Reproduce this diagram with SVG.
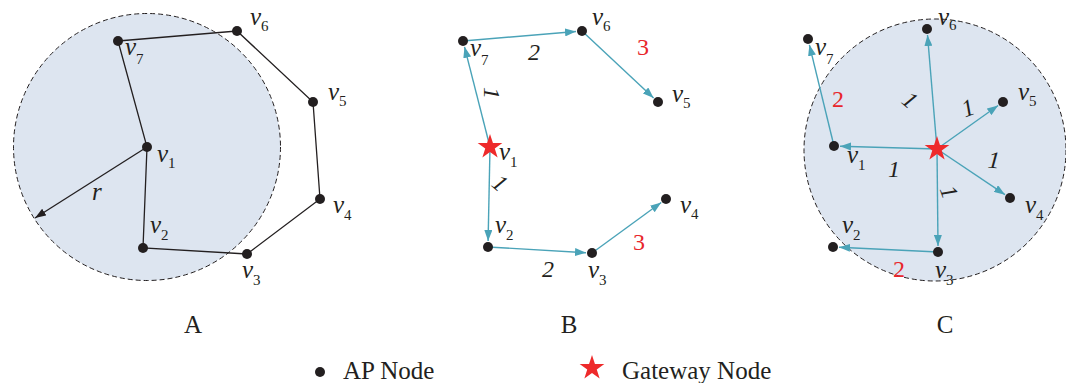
<svg xmlns="http://www.w3.org/2000/svg" width="1066" height="383" viewBox="0 0 1066 383">
<style>
.v{font-family:"Liberation Serif","Times New Roman",serif;font-style:italic;font-size:25px;fill:#231f20}
.sub{font-style:normal;font-size:15px}
.num{font-family:"Liberation Serif","Times New Roman",serif;font-style:italic;font-size:24px;fill:#231f20;text-anchor:middle}
.red{font-family:"Liberation Serif","Times New Roman",serif;font-size:24px;fill:#e8262b;text-anchor:middle}
.cap{font-family:"Liberation Serif","Times New Roman",serif;font-size:25px;fill:#231f20}
.range{fill:#dde5f0;stroke:#231f20;stroke-width:1;stroke-dasharray:5 3}
.blk{stroke:#231f20;stroke-width:1.3;fill:none}
.tl{stroke:#4aa3b8;stroke-width:1.4;fill:none;marker-end:url(#ta)}
.dot{fill:#231f20}
.star{fill:#ee2a2b}
</style>
<defs>
<marker id="ta" markerUnits="userSpaceOnUse" markerWidth="11" markerHeight="8" refX="11" refY="4" orient="auto"><path d="M0,0 L11,4 L0,8 z" fill="#4aa3b8"/></marker>
<marker id="ba" markerUnits="userSpaceOnUse" markerWidth="11" markerHeight="8" refX="11" refY="4" orient="auto"><path d="M0,0 L11,4 L0,8 z" fill="#231f20"/></marker>
<path id="st" d="M0,-13 L2.94,-4.05 L12.36,-4.02 L4.76,1.55 L7.64,10.52 L0,5 L-7.64,10.52 L-4.76,1.55 L-12.36,-4.02 L-2.94,-4.05 Z"/>
</defs>

<!-- Panel A -->
<circle class="range" cx="147" cy="147" r="133.5"/>
<g id="A-connectors">
<path class="blk" d="M118,41 L237,31 L313,102 L320,199 L247,254 L143,248 L147,147 Z"/>
<line x1="147" y1="147" x2="35" y2="218" stroke="#231f20" stroke-width="1.3" marker-end="url(#ba)"/>
</g>
<g id="A-v1"><circle class="dot" cx="147" cy="147" r="5"/><text class="v" x="157" y="162">v<tspan class="sub" dy="6">1</tspan></text></g>
<g id="A-v2"><circle class="dot" cx="143" cy="248" r="5"/><text class="v" x="150" y="233">v<tspan class="sub" dy="7">2</tspan></text></g>
<g id="A-v3"><circle class="dot" cx="247" cy="254" r="5"/><text class="v" x="242" y="278">v<tspan class="sub" dy="7">3</tspan></text></g>
<g id="A-v4"><circle class="dot" cx="320" cy="199" r="5"/><text class="v" x="333" y="213">v<tspan class="sub" dy="7">4</tspan></text></g>
<g id="A-v5"><circle class="dot" cx="313" cy="102" r="5"/><text class="v" x="328" y="100">v<tspan class="sub" dy="6">5</tspan></text></g>
<g id="A-v6"><circle class="dot" cx="237" cy="31" r="5"/><text class="v" x="250" y="25">v<tspan class="sub" dy="6">6</tspan></text></g>
<g id="A-v7"><circle class="dot" cx="118" cy="41" r="5"/><text class="v" x="125" y="55">v<tspan class="sub" dy="9">7</tspan></text></g>
<text class="v" x="92" y="200">r</text>
<text class="cap" x="193" y="333" text-anchor="middle">A</text>

<!-- Panel B -->
<g id="B-connectors">
<line class="tl" x1="490" y1="147" x2="464.5" y2="46.8"/>
<line class="tl" x1="463" y1="41" x2="576" y2="31.5"/>
<line class="tl" x1="582" y1="31" x2="653.6" y2="97.9"/>
<line class="tl" x1="490" y1="147" x2="488.1" y2="241"/>
<line class="tl" x1="488" y1="247" x2="586" y2="252.7"/>
<line class="tl" x1="592" y1="253" x2="661.2" y2="202.5"/>
</g>
<g id="B-v1"><use href="#st" class="star" x="490" y="147"/><text class="v" x="499" y="160">v<tspan class="sub" dy="7">1</tspan></text></g>
<g id="B-v2"><circle class="dot" cx="488" cy="247" r="5"/><text class="v" x="495" y="233">v<tspan class="sub" dy="7">2</tspan></text></g>
<g id="B-v3"><circle class="dot" cx="592" cy="253" r="5"/><text class="v" x="588" y="278">v<tspan class="sub" dy="7">3</tspan></text></g>
<g id="B-v4"><circle class="dot" cx="666" cy="199" r="5"/><text class="v" x="680" y="213">v<tspan class="sub" dy="6">4</tspan></text></g>
<g id="B-v5"><circle class="dot" cx="658" cy="102" r="5"/><text class="v" x="672" y="102">v<tspan class="sub" dy="6">5</tspan></text></g>
<g id="B-v6"><circle class="dot" cx="582" cy="31" r="5"/><text class="v" x="592" y="25">v<tspan class="sub" dy="6">6</tspan></text></g>
<g id="B-v7"><circle class="dot" cx="463" cy="41" r="5"/><text class="v" x="470" y="56">v<tspan class="sub" dy="9">7</tspan></text></g>
<g id="B-labels">
<text class="num" transform="translate(492,93) rotate(90)" x="0" y="8">1</text>
<text class="num" transform="translate(500,183) rotate(40)" x="0" y="8">1</text>
<text class="num" x="534" y="60">2</text>
<text class="num" x="548" y="277">2</text>
<text class="red" x="643" y="55">3</text>
<text class="red" x="639" y="250">3</text>
</g>
<text class="cap" x="569" y="333" text-anchor="middle">B</text>

<!-- Panel C -->
<circle class="range" cx="935" cy="150" r="131"/>
<g id="C-connectors">
<line class="tl" x1="937" y1="149" x2="927.5" y2="35"/>
<line class="tl" x1="937" y1="149" x2="998.1" y2="105.5"/>
<line class="tl" x1="937" y1="149" x2="1005" y2="194.7"/>
<line class="tl" x1="937" y1="149" x2="938" y2="246"/>
<line class="tl" x1="937" y1="149" x2="840" y2="146.2"/>
<line class="tl" x1="834" y1="146" x2="809.4" y2="44.8"/>
<line class="tl" x1="938" y1="252" x2="839" y2="247.3"/>
</g>
<g id="C-gw"><use href="#st" class="star" x="937" y="149"/></g>
<g id="C-v1"><circle class="dot" cx="834" cy="146" r="5"/><text class="v" x="847" y="163">v<tspan class="sub" dy="7">1</tspan></text></g>
<g id="C-v2"><circle class="dot" cx="833" cy="247" r="5"/><text class="v" x="842" y="233">v<tspan class="sub" dy="7">2</tspan></text></g>
<g id="C-v3"><circle class="dot" cx="938" cy="252" r="5"/><text class="v" x="935" y="278">v<tspan class="sub" dy="7">3</tspan></text></g>
<g id="C-v4"><circle class="dot" cx="1010" cy="198" r="5"/><text class="v" x="1025" y="213">v<tspan class="sub" dy="7">4</tspan></text></g>
<g id="C-v5"><circle class="dot" cx="1003" cy="102" r="5"/><text class="v" x="1018" y="100">v<tspan class="sub" dy="6">5</tspan></text></g>
<g id="C-v6"><circle class="dot" cx="927" cy="29" r="5"/><text class="v" x="938" y="25">v<tspan class="sub" dy="5">6</tspan></text></g>
<g id="C-v7"><circle class="dot" cx="808" cy="39" r="5"/><text class="v" x="815" y="55">v<tspan class="sub" dy="9">7</tspan></text></g>
<g id="C-labels">
<text class="num" transform="translate(910,100) rotate(40)" x="0" y="8">1</text>
<text class="num" transform="translate(968,108) rotate(-20)" x="0" y="8">1</text>
<text class="num" transform="translate(994,160) rotate(5)" x="0" y="8">1</text>
<text class="num" transform="translate(894,169)" x="0" y="8">1</text>
<text class="num" transform="translate(949,192) rotate(70)" x="0" y="8">1</text>
<text class="red" x="838" y="107">2</text>
<text class="red" x="899" y="277">2</text>
</g>
<text class="cap" x="945" y="333" text-anchor="middle">C</text>

<!-- Legend -->
<g id="legend-ap"><circle class="dot" cx="320" cy="372" r="5"/><text class="cap" x="343" y="379">AP Node</text></g>
<g id="legend-gw"><use href="#st" class="star" x="592" y="368"/><text class="cap" x="622" y="379">Gateway Node</text></g>
</svg>
